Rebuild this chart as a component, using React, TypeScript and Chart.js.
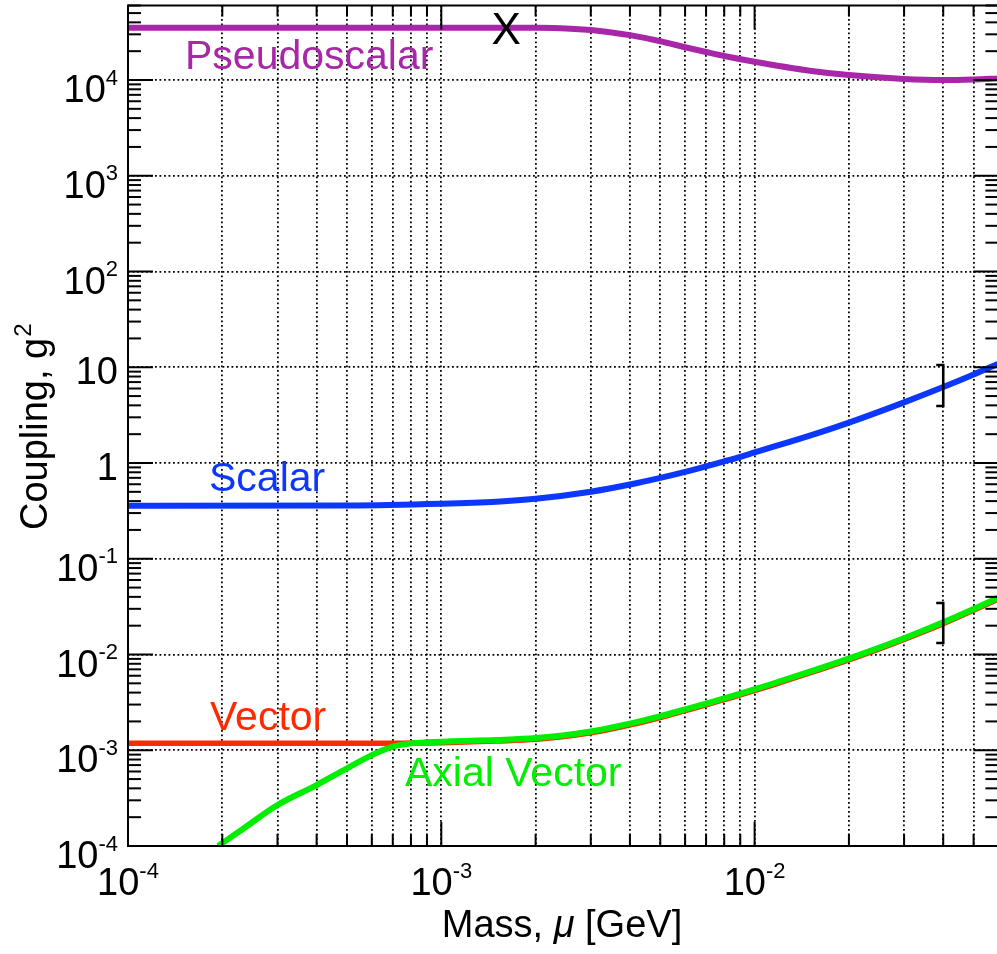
import React, { useEffect, useRef } from "react";
import { Chart, registerables } from "chart.js";

Chart.register(...registerables);

// ---------- data ----------
const pseudoX = [1e-4, 1e-3, 1.5e-3, 2e-3, 2.5e-3, 3e-3, 3.5e-3, 4e-3, 5e-3, 6e-3, 7e-3, 8e-3, 1e-2, 1.5e-2, 2e-2, 3e-2, 4e-2, 5e-2, 6e-2];
const pseudoY = [3.52e4, 3.52e4, 3.52e4, 3.51e4, 3.46e4, 3.33e4, 3.14e4, 2.94e4, 2.54e4, 2.2e4, 1.96e4, 1.78e4, 1.55e4, 1.25e4, 1.125e4, 1.026e4, 1.0e4, 1.014e4, 1.04e4];

const scalarX = [1e-4, 5e-4, 1e-3, 1.5e-3, 2e-3, 3e-3, 4e-3, 5e-3, 6e-3, 7e-3, 8e-3, 9e-3, 1e-2, 1.5e-2, 2e-2, 3e-2, 4e-2, 5e-2, 6e-2];
const scalarY = [0.358, 0.36, 0.375, 0.394, 0.423, 0.501, 0.596, 0.7, 0.809, 0.924, 1.042, 1.162, 1.29, 1.93, 2.64, 4.3, 6.21, 8.4, 10.9];

const vectorX = [1e-4, 5e-4, 7e-4, 8e-4, 1e-3, 1.5e-3, 2e-3, 3e-3, 4e-3, 5e-3, 6e-3, 7e-3, 8e-3, 9e-3, 1.12e-2, 1.5e-2, 2.17e-2, 3e-2, 4e-2, 5e-2, 6e-2];
const vectorY = [1.18e-3, 1.18e-3, 1.18e-3, 1.19e-3, 1.2e-3, 1.25e-3, 1.3e-3, 1.52e-3, 1.84e-3, 2.2e-3, 2.59e-3, 2.98e-3, 3.38e-3, 3.78e-3, 4.71e-3, 6.41e-3, 9.68e-3, 1.44e-2, 2.1e-2, 2.9e-2, 3.81e-2];

const axialX = [1.94e-4, 2.3e-4, 3e-4, 4e-4, 5e-4, 6e-4, 7e-4, 8e-4, 1e-3, 1.5e-3, 2e-3, 3e-3, 4e-3, 5e-3, 6e-3, 7e-3, 8e-3, 9e-3, 1.12e-2, 1.5e-2, 2.17e-2, 3e-2, 4e-2, 5e-2, 6e-2];
const axialY = [1e-4, 1.47e-4, 2.68e-4, 4.33e-4, 6.48e-4, 8.9e-4, 1.09e-3, 1.18e-3, 1.23e-3, 1.28e-3, 1.34e-3, 1.57e-3, 1.9e-3, 2.27e-3, 2.67e-3, 3.07e-3, 3.48e-3, 3.9e-3, 4.86e-3, 6.61e-3, 9.98e-3, 1.48e-2, 2.17e-2, 2.99e-2, 3.93e-2];

const seriesNames = ["Pseudoscalar", "Scalar", "Vector", "Axial Vector"];
const seriesColors = ["#A827A8", "#0B37FF", "#FF2A00", "#00EE00"];

// marker "X" and bracket annotations (data coordinates)
const xMarker = { x: 1.61e-3, y: 3.45e4, text: "X" };
const bracketX = [4e-2, 4e-2];
const bracketTop = [10.56, 0.0345];
const bracketBottom = [3.94, 0.0132];

// axes
const X_MIN = 1e-4, X_MAX = 6e-2, Y_MIN = 1e-4, Y_MAX = 6e4;
const xMajorTicks = [1e-4, 1e-3, 1e-2];
const xTickLabels: [string, string][] = [["10", "-4"], ["10", "-3"], ["10", "-2"]];
const yMajorTicks = [1e-4, 1e-3, 1e-2, 1e-1, 1, 10, 1e2, 1e3, 1e4];
const yTickLabels: [string, string][] = [["10", "-4"], ["10", "-3"], ["10", "-2"], ["10", "-1"], ["1", ""], ["10", ""], ["10", "2"], ["10", "3"], ["10", "4"]];
const mantissas = [1, 2, 3, 4, 5, 6, 7, 8, 9];
const xTitle = ["Mass, ", "μ", " [GeV]"];
const yTitle = ["Coupling, g", "2"];

const FONT = "'Liberation Sans', Arial, Helvetica, sans-serif";

function logTicks(min: number, max: number): number[] {
  const out: number[] = [];
  for (let e = Math.floor(Math.log10(min)); e <= Math.ceil(Math.log10(max)); e++) {
    for (const m of mantissas) {
      const v = parseFloat((m * Math.pow(10, e)).toPrecision(6));
      if (v >= min * 0.9999 && v <= max * 1.0001) out.push(v);
    }
  }
  return out;
}
function isPow10(v: number) {
  const l = Math.log10(v);
  return Math.abs(l - Math.round(l)) < 1e-6;
}
const zip = (xs: number[], ys: number[]) => xs.map((x, i) => ({ x, y: ys[i] }));

const framePlugin = {
  id: "framePlugin",
  afterDatasetsDraw(chart: any) {
    const { ctx, chartArea: a, scales } = chart;
    const xs = scales.x, ys = scales.y;
    ctx.save();
    ctx.strokeStyle = "#000";
    ctx.lineWidth = 2;
    ctx.lineCap = "butt";
    const line = (x1: number, y1: number, x2: number, y2: number) => {
      ctx.beginPath(); ctx.moveTo(x1, y1); ctx.lineTo(x2, y2); ctx.stroke();
    };
    for (const t of xs.ticks) {
      const px = xs.getPixelForValue(t.value);
      const maj = isPow10(t.value);
      line(px, a.bottom, px, a.bottom - (maj ? 24 : 12));
      line(px, a.top, px, a.top + (maj ? 24 : 11));
    }
    for (const t of ys.ticks) {
      const py = ys.getPixelForValue(t.value);
      const maj = isPow10(t.value);
      line(a.left, py, a.left + (maj ? 25 : 13), py);
      line(a.right, py, a.right - (maj ? 25 : 13), py);
    }
    ctx.strokeRect(a.left, a.top, a.right - a.left, a.bottom - a.top);

    // brackets
    ctx.lineWidth = 2.6;
    for (let i = 0; i < bracketX.length; i++) {
      const bx = xs.getPixelForValue(bracketX[i]);
      const t = ys.getPixelForValue(bracketTop[i]);
      const b = ys.getPixelForValue(bracketBottom[i]);
      ctx.beginPath();
      ctx.moveTo(bx - 7, t);
      ctx.lineTo(bx, t);
      ctx.lineTo(bx, b);
      ctx.lineTo(bx - 7, b);
      ctx.stroke();
    }

    // X marker
    ctx.fillStyle = "#000";
    ctx.font = `44px ${FONT}`;
    ctx.textAlign = "center";
    ctx.textBaseline = "alphabetic";
    ctx.fillText(xMarker.text, xs.getPixelForValue(xMarker.x), ys.getPixelForValue(xMarker.y) + 44 * 0.716 / 2);

    // tick labels
    const drawSup = (base: string, exp: string, x: number, y: number, align: "center" | "right") => {
      ctx.textAlign = "left";
      ctx.font = `38px ${FONT}`;
      const wb = ctx.measureText(base).width;
      ctx.font = `22px ${FONT}`;
      const we = exp ? ctx.measureText(exp).width : 0;
      const total = wb + we;
      const start = align === "center" ? x - total / 2 : x - total;
      ctx.font = `38px ${FONT}`;
      ctx.fillText(base, start, y);
      if (exp) {
        ctx.font = `22px ${FONT}`;
        ctx.fillText(exp, start + wb, y - 17.5);
      }
    };
    ctx.fillStyle = "#000";
    xMajorTicks.forEach((v, i) => {
      drawSup(xTickLabels[i][0], xTickLabels[i][1], xs.getPixelForValue(v), a.bottom + 49, "center");
    });
    yMajorTicks.forEach((v, i) => {
      const [b, e] = yTickLabels[i];
      drawSup(b, e, a.left - 10, ys.getPixelForValue(v) + (e ? 22 : 17), "right");
    });

    // x title
    ctx.textAlign = "left";
    const fN = `38px ${FONT}`, fI = `italic 38px ${FONT}`;
    ctx.font = fN; const w0 = ctx.measureText(xTitle[0]).width;
    ctx.font = fI; const w1 = ctx.measureText(xTitle[1]).width;
    ctx.font = fN; const w2 = ctx.measureText(xTitle[2]).width;
    let sx = 562 - (w0 + w1 + w2) / 2;
    const ty = a.bottom + 91;
    ctx.font = fN; ctx.fillText(xTitle[0], sx, ty); sx += w0;
    ctx.font = fI; ctx.fillText(xTitle[1], sx, ty); sx += w1;
    ctx.font = fN; ctx.fillText(xTitle[2], sx, ty);

    // y title
    ctx.save();
    ctx.translate(47, 530);
    ctx.rotate(-Math.PI / 2);
    ctx.font = `38px ${FONT}`;
    ctx.fillText(yTitle[0], 0, 0);
    const wy = ctx.measureText(yTitle[0]).width;
    ctx.font = `24px ${FONT}`;
    ctx.fillText(yTitle[1], wy + 1, -16);
    ctx.restore();

    // series labels
    ctx.font = `41px ${FONT}`;
    ctx.textAlign = "left";
    const labelPos = [[185, 69], [209, 491], [210, 730], [405, 786]];
    seriesNames.forEach((n, i) => {
      ctx.fillStyle = seriesColors[i];
      ctx.fillText(n, labelPos[i][0], labelPos[i][1]);
    });
    ctx.restore();
  },
};

export default function App() {
  const ref = useRef<HTMLCanvasElement | null>(null);
  useEffect(() => {
    if (!ref.current) return;
    const xTicks = logTicks(X_MIN, X_MAX);
    const yTicks = logTicks(Y_MIN, Y_MAX);
    const mk = (data: any[], i: number, w: number) => ({
      label: seriesNames[i],
      data,
      borderColor: seriesColors[i],
      backgroundColor: seriesColors[i],
      borderWidth: w,
      pointRadius: 0,
      cubicInterpolationMode: "monotone" as const,
      fill: false,
      borderJoinStyle: "round" as const,
    });
    // Chart.js paints the first dataset last (on top): green above red
    const chart = new Chart(ref.current, {
      type: "line",
      data: {
        datasets: [
          mk(zip(pseudoX, pseudoY), 0, 6),
          mk(zip(scalarX, scalarY), 1, 6),
          mk(zip(axialX, axialY), 3, 6),
          mk(zip(vectorX, vectorY), 2, 5.5),
        ],
      },
      options: {
        animation: false,
        responsive: false,
        maintainAspectRatio: false,
        devicePixelRatio: 1,
        layout: { padding: { left: 128, top: 5.5, right: 2.6, bottom: 108 } },
        plugins: { legend: { display: false }, tooltip: { enabled: false } },
        scales: {
          x: {
            type: "logarithmic",
            min: X_MIN,
            max: X_MAX,
            afterBuildTicks: (axis: any) => { axis.ticks = xTicks.map((v) => ({ value: v })); },
            ticks: { display: false },
            grid: { color: "#000", lineWidth: 1.8, drawTicks: false },
            border: { display: false, dash: [1.8, 2.7] },
            title: { display: false },
          },
          y: {
            type: "logarithmic",
            min: Y_MIN,
            max: Y_MAX,
            afterBuildTicks: (axis: any) => { axis.ticks = yTicks.map((v) => ({ value: v })); },
            ticks: { display: false },
            grid: {
              color: (c: any) => (c.tick && isPow10(c.tick.value) ? "#000" : "rgba(0,0,0,0)"),
              lineWidth: 1.8,
              drawTicks: false,
            },
            border: { display: false, dash: [1.8, 2.7] },
            title: { display: false },
          },
        },
      },
      plugins: [framePlugin],
    });
    return () => chart.destroy();
  }, []);
  return (
    <div style={{ position: "fixed", left: 0, top: 0, width: 997, height: 954, overflow: "hidden", background: "#fff" }}>
      <canvas ref={ref} width={1001} height={954} style={{ display: "block", width: 1001, height: 954 }} />
    </div>
  );
}
